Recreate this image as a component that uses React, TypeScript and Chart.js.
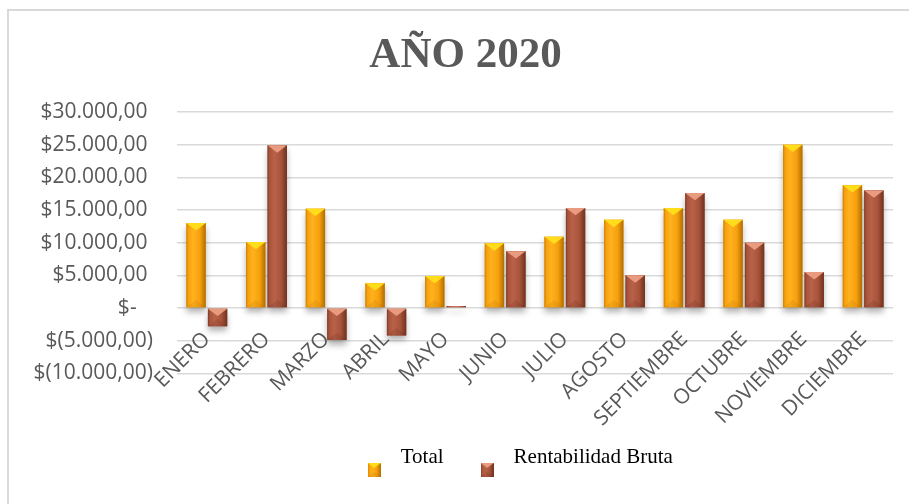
import React, { useEffect, useRef } from "react";
import { Chart, registerables } from "chart.js";

Chart.register(...registerables);

const categories = [
  "ENERO", "FEBRERO", "MARZO", "ABRIL", "MAYO", "JUNIO",
  "JULIO", "AGOSTO", "SEPTIEMBRE", "OCTUBRE", "NOVIEMBRE", "DICIEMBRE",
];
const totalValues = [13000, 10100, 15200, 3800, 4900, 9900, 10900, 13500, 15300, 13500, 25000, 18800];
const rentabilidadValues = [-2800, 24900, -4900, -4200, 300, 8700, 15300, 5000, 17600, 10000, 5500, 18000];
const seriesNames = ["Total", "Rentabilidad Bruta"];
const yMin = -10000;
const yMax = 30000;
const yStep = 5000;
const titleText = "AÑO 2020";

type Bevel = { base: string; edgeL: string; light: string; edgeR: string; top: string; bottom: string };
const TOTAL_STYLE: Bevel = {
  base: "#F7A00E", edgeL: "#C98000", light: "#FFB21E", edgeR: "#B06E00", top: "#FFDD1A", bottom: "rgba(120,70,0,0.10)",
};
const RENT_STYLE: Bevel = {
  base: "#A8533A", edgeL: "#7E3B26", light: "#B8624A", edgeR: "#6E321F", top: "#E99B80", bottom: "rgba(60,20,10,0.12)",
};
const STYLES = [TOTAL_STYLE, RENT_STYLE];

function formatPeso(v: number): string {
  if (v === 0) return "$-   ";
  const abs = Math.abs(v);
  const [int, dec] = abs.toFixed(2).split(".");
  const intF = int.replace(/\B(?=(\d{3})+(?!\d))/g, ".");
  return v < 0 ? `$(${intF},${dec})` : `$${intF},${dec} `;
}

function drawBevel(ctx: CanvasRenderingContext2D, left: number, right: number, top: number, bottom: number, s: Bevel) {
  const w = right - left;
  const h = bottom - top;
  if (w <= 0 || h <= 0) return;
  const g = ctx.createLinearGradient(left, 0, right, 0);
  g.addColorStop(0, s.edgeL);
  g.addColorStop(0.1, s.base);
  g.addColorStop(0.35, s.light);
  g.addColorStop(0.7, s.base);
  g.addColorStop(1, s.edgeR);
  ctx.fillStyle = g;
  ctx.fillRect(left, top, w, h);
  const d = Math.min(w * 0.38, h / 2);
  ctx.fillStyle = s.bottom;
  ctx.beginPath();
  ctx.moveTo(left, bottom);
  ctx.lineTo(right, bottom);
  ctx.lineTo(left + w / 2, bottom - d);
  ctx.closePath();
  ctx.fill();
  ctx.fillStyle = s.top;
  ctx.beginPath();
  ctx.moveTo(left, top);
  ctx.lineTo(right, top);
  ctx.lineTo(left + w / 2, top + d);
  ctx.closePath();
  ctx.fill();
}

function makeMarker(s: Bevel): HTMLCanvasElement {
  const c = document.createElement("canvas");
  c.width = 13;
  c.height = 40;
  const ctx = c.getContext("2d")!;
  drawBevel(ctx, 0, 13, 26, 40, s);
  return c;
}

const bevelPlugin = {
  id: "bevelBars",
  beforeDatasetsDraw(chart: any) {
    const ctx = chart.ctx;
    ctx.save();
    ctx.shadowColor = "rgba(0,0,0,0.3)";
    ctx.shadowBlur = 6;
    ctx.shadowOffsetY = 5;
  },
  afterDatasetsDraw(chart: any) {
    const ctx = chart.ctx;
    ctx.restore();
    ctx.save();
    chart.data.datasets.forEach((_: any, i: number) => {
      const meta = chart.getDatasetMeta(i);
      meta.data.forEach((el: any) => {
        const p = el.getProps(["x", "y", "base", "width"], true);
        const left = p.x - p.width / 2;
        const right = p.x + p.width / 2;
        const top = Math.min(p.y, p.base);
        const bottom = Math.max(p.y, p.base);
        drawBevel(ctx, left, right, top, bottom, STYLES[i]);
      });
    });
    ctx.restore();
  },
};

// Excel places the title and legend off the plot's centre line; shift the boxes after layout.
const boxShiftPlugin = {
  id: "boxShift",
  afterLayout(chart: any) {
    const tl = chart.titleBlock;
    if (tl) {
      tl.left += 19;
      tl.right += 19;
    }
    const lg = chart.legend;
    if (lg) {
      lg.left += 69;
      lg.right += 69;
    }
  },
};

export default function App() {
  const ref = useRef<HTMLCanvasElement>(null);
  useEffect(() => {
    const markers = STYLES.map(makeMarker);
    const chart = new Chart(ref.current!, {
      type: "bar",
      data: {
        labels: categories,
        datasets: [
          { label: seriesNames[0], data: totalValues, backgroundColor: TOTAL_STYLE.base },
          { label: seriesNames[1], data: rentabilidadValues, backgroundColor: RENT_STYLE.base },
        ],
      },
      options: {
        animation: false,
        responsive: false,
        datasets: { bar: { categoryPercentage: 0.72, barPercentage: 0.9 } },
        layout: { padding: { left: 0, right: 16, top: 0, bottom: 26.5 } },
        scales: {
          y: {
            min: yMin,
            max: yMax,
            afterFit(scale: any) {
              scale.width = 177;
            },
            ticks: {
              stepSize: yStep,
              padding: 24,
              color: "#595959",
              font: { family: "'Open Sans'", size: 21 },
              callback: (v: any) => formatPeso(Number(v)),
            },
            grid: { color: "#d9d9d9", lineWidth: 1.5, drawTicks: false },
            border: { display: false },
          },
          x: {
            position: { y: 0 } as any,
            grid: { display: false, drawTicks: false },
            border: { display: false },
            ticks: {
              autoSkip: false,
              maxRotation: 45,
              minRotation: 45,
              padding: 19,
              color: "#595959",
              font: { family: "'Open Sans'", size: 21 },
            },
          },
          xSpace: {
            type: "category",
            position: "bottom",
            display: true,
            grid: { display: false, drawTicks: false },
            border: { display: false },
            ticks: { display: false },
            afterFit(scale: any) {
              scale.height = 45.7;
            },
          },
        } as any,
        plugins: {
          title: {
            display: true,
            text: titleText,
            color: "#595959",
            font: { family: "'Liberation Serif'", size: 43, weight: "bold" },
            padding: { top: 30, bottom: 30.4 },
          },
          legend: {
            position: "bottom",
            labels: {
              usePointStyle: true,
              pointStyleWidth: 32,
              padding: 27.5,
              color: "#000000",
              font: { family: "'Liberation Serif'", size: 21 },
              generateLabels(ch: any) {
                const items = (Chart.defaults.plugins.legend.labels as any).generateLabels(ch);
                items.forEach((it: any, i: number) => {
                  it.pointStyle = markers[i];
                });
                return items;
              },
            },
          },
          tooltip: { enabled: false },
        },
      },
      plugins: [bevelPlugin, boxShiftPlugin],
    });
    return () => chart.destroy();
  }, []);
  return (
    <div style={{ position: "fixed", left: 0, top: 0, width: 909, height: 504, overflow: "hidden", background: "#ffffff" }}>
      <div
        style={{
          position: "absolute", left: 7, top: 9, width: 1000, height: 1000,
          border: "2px solid #d9d9d9", boxSizing: "border-box",
        }}
      />
      <canvas ref={ref} width={909} height={504} style={{ position: "absolute", left: 0, top: 0, width: 909, height: 504 }} />
    </div>
  );
}
